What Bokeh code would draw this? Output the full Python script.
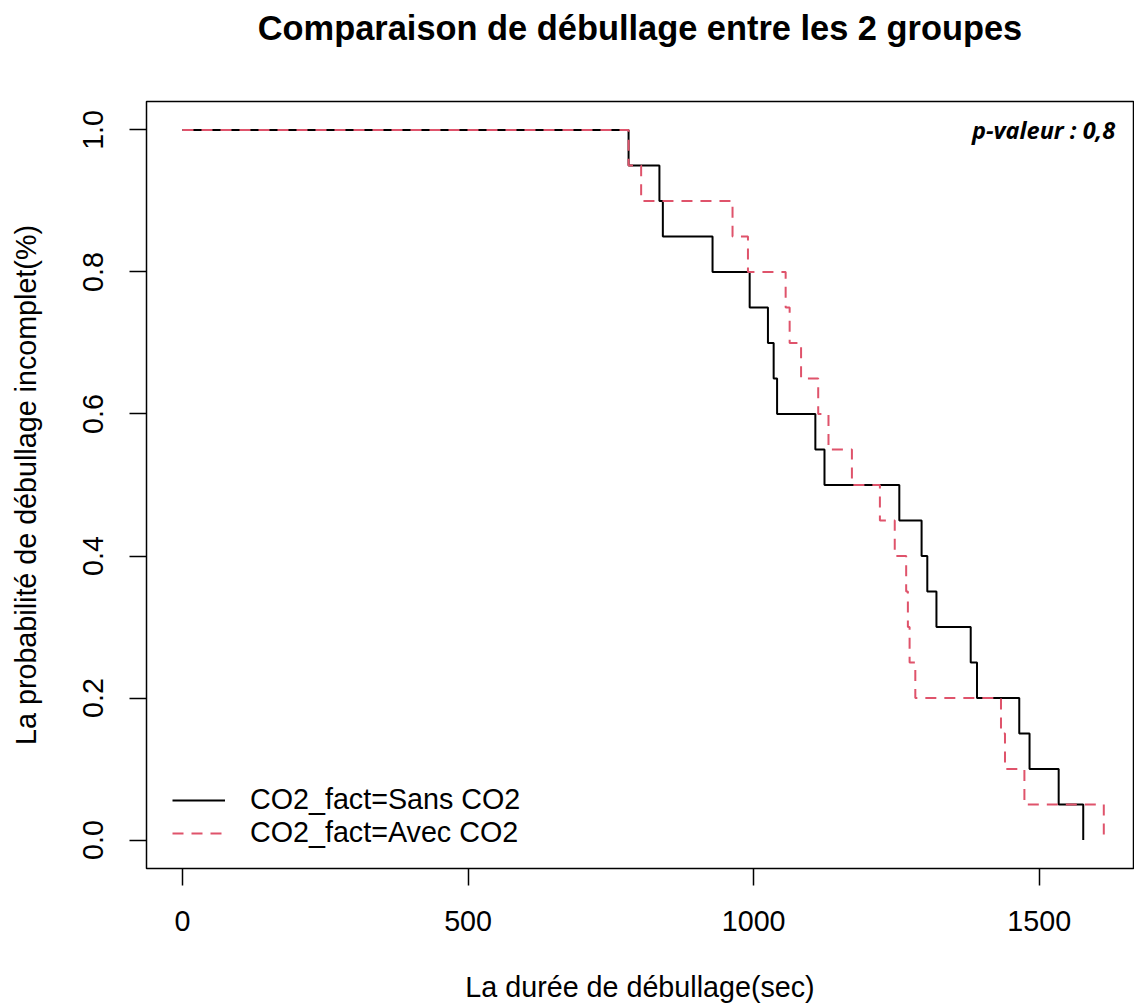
from bokeh.plotting import figure
from bokeh.models import Range1d, FixedTicker, Legend, LegendItem, Label, PrintfTickFormatter
from bokeh.embed import file_html
from bokeh.resources import INLINE

# ---- data ----
sans_time = [0, 781, 835, 841, 928, 993, 1025, 1035, 1041, 1108, 1124,
             1255, 1294, 1304, 1320, 1380, 1391, 1465, 1483, 1534, 1577]
sans_surv = [1.00, 0.95, 0.90, 0.85, 0.80, 0.75, 0.70, 0.65, 0.60, 0.55, 0.50,
             0.45, 0.40, 0.35, 0.30, 0.25, 0.20, 0.15, 0.10, 0.05, 0.00]

avec_time = [0, 781, 803, 963, 990, 1056, 1063, 1083, 1113, 1131, 1172,
             1221, 1247, 1267, 1270, 1273, 1283, 1433, 1440, 1474, 1613]
avec_surv = [1.00, 0.95, 0.90, 0.85, 0.80, 0.75, 0.70, 0.65, 0.60, 0.55, 0.50,
             0.45, 0.40, 0.35, 0.30, 0.25, 0.20, 0.15, 0.10, 0.05, 0.00]

x_ticks = [0, 500, 1000, 1500]
y_ticks = [0.0, 0.2, 0.4, 0.6, 0.8, 1.0]

series_labels = ["CO2_fact=Sans CO2", "CO2_fact=Avec CO2"]
title_text = "Comparaison de débullage entre les 2 groupes"
x_label = "La durée de débullage(sec)"
y_label = "La probabilité de débullage incomplet(%)"
pval_text = "p-valeur : 0,8"

FONT = "Liberation Sans"
FS = "28.7px"
RED = "#DF536B"

p = figure(width=1134, height=1006,
           x_range=Range1d(-63, 1665), y_range=Range1d(-0.04, 1.04),
           output_backend="svg", toolbar_location=None,
           min_border_left=146, min_border_right=1,
           min_border_top=101, min_border_bottom=138)

# trailing empty line lifts the title well above the frame
p.title.text = title_text + "\n"
p.title.align = "center"
p.title.vertical_align = "bottom"
p.title.text_font = FONT
p.title.text_font_size = "34.4px"
p.title.text_font_style = "bold"
p.title.text_color = "black"
p.title.text_line_height = 1.44
p.title.standoff = 0

p.xgrid.visible = False
p.ygrid.visible = False
p.outline_line_color = "black"
p.outline_line_width = 1.5

for ax in (p.xaxis[0], p.yaxis[0]):
    ax.axis_line_color = None
    ax.major_tick_out = 17
    ax.major_tick_in = 0
    ax.major_tick_line_color = "black"
    ax.major_tick_line_width = 1.5
    ax.minor_tick_line_color = None
    ax.major_label_text_font = FONT
    ax.major_label_text_font_size = FS
    ax.major_label_text_color = "black"
    ax.axis_label_text_font = FONT
    ax.axis_label_text_font_size = FS
    ax.axis_label_text_font_style = "normal"
    ax.axis_label_text_color = "black"

p.xaxis.ticker = FixedTicker(ticks=x_ticks)
p.yaxis.ticker = FixedTicker(ticks=y_ticks)
p.yaxis.formatter = PrintfTickFormatter(format="%.1f")
p.yaxis.major_label_orientation = "parallel"
p.xaxis.axis_label = x_label
p.yaxis.axis_label = y_label
p.xaxis.major_label_standoff = 25
p.xaxis.axis_label_standoff = 37
p.yaxis.major_label_standoff = 26
p.yaxis.axis_label_standoff = 39

r1 = p.step(x=sans_time, y=sans_surv, mode="after", line_color="black", line_width=2)
r2 = p.step(x=avec_time, y=avec_surv, mode="after", line_color=RED, line_width=2,
            line_dash="11 8")

legend = Legend(items=[LegendItem(label=series_labels[0], renderers=[r1]),
                       LegendItem(label=series_labels[1], renderers=[r2])],
                location=(26, 19), glyph_width=53, glyph_height=20,
                label_standoff=25, spacing=-3, padding=0, margin=0,
                label_height=31,
                label_text_font=FONT, label_text_font_size=FS,
                label_text_color="black",
                border_line_color=None, background_fill_alpha=0)
p.add_layout(legend)

p.add_layout(Label(x=1633, y=1.0, text=pval_text, text_align="right",
                   text_baseline="middle", text_font="Open Sans",
                   text_font_style="bold italic", text_font_size="23.5px",
                   text_color="black"))

open("out.html", "w").write(file_html(p, INLINE))
